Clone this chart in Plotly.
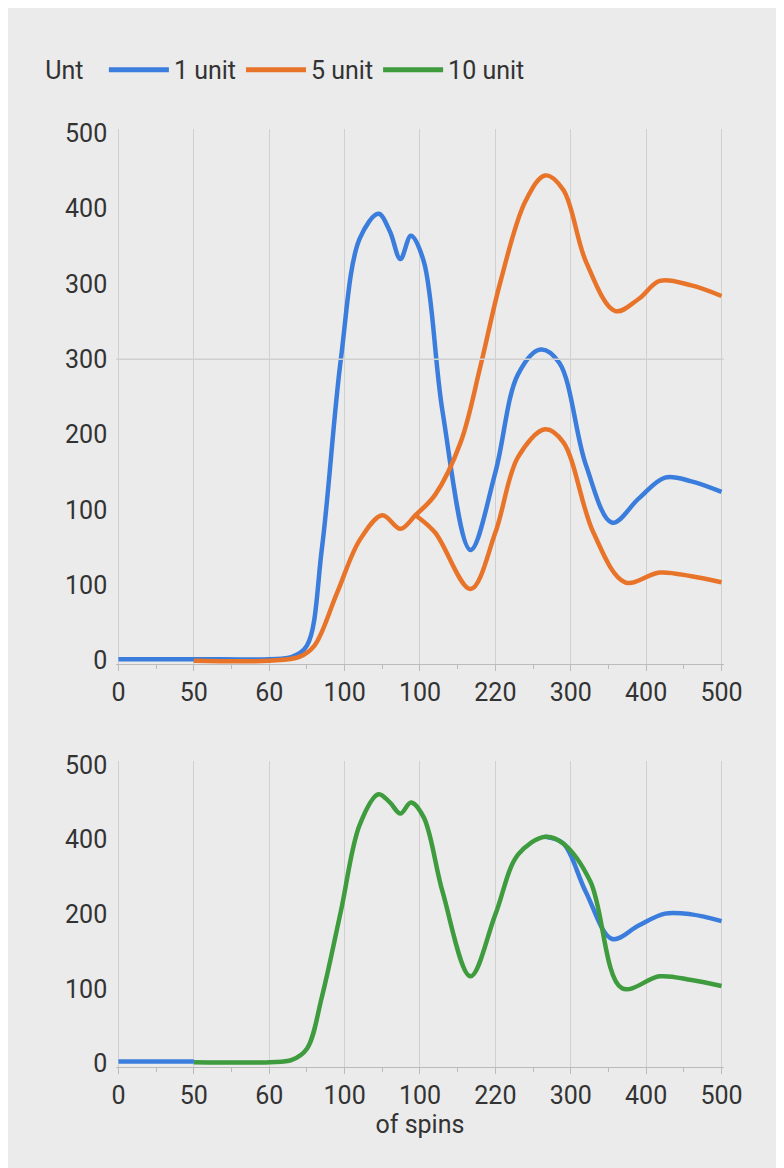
import plotly.graph_objects as go
from plotly.subplots import make_subplots

# tick labels as they appear on the chart (evenly spaced)
x_labels = ["0", "50", "60", "100", "100", "220", "300", "400", "500"]
y_top_labels = ["0", "100", "100", "200", "300", "300", "400", "500"]
y_bot_labels = ["0", "100", "200", "400", "500"]

# top panel, positions in tick-slot units
blue_x = [0, 1, 2, 2.3, 2.5, 2.7, 2.95, 3.2, 3.45, 3.6, 3.74, 3.88, 4.05, 4.3, 4.67, 5.0, 5.3, 5.6, 5.85, 6.2, 6.55, 6.9, 7.25, 7.6, 8]
blue_y = [0.02, 0.02, 0.02, 0.05, 0.2, 1.5, 4.0, 5.6, 5.93, 5.7, 5.33, 5.64, 5.3, 3.3, 1.47, 2.5, 3.8, 4.13, 3.95, 2.6, 1.83, 2.15, 2.43, 2.38, 2.24]
orange_x = [1, 2, 2.4, 2.6, 2.9, 3.2, 3.5, 3.74, 3.94, 4.2, 4.54, 4.8, 5.07, 5.4, 5.66, 5.9, 6.2, 6.59, 6.9, 7.18, 7.6, 8]
orange_y = [0.0, 0.0, 0.05, 0.2, 0.9, 1.6, 1.93, 1.75, 1.93, 2.2, 2.9, 3.9, 5.04, 6.1, 6.44, 6.25, 5.3, 4.64, 4.8, 5.04, 4.98, 4.84]
orange2_x = [3.94, 4.2, 4.67, 5.0, 5.3, 5.66, 5.9, 6.3, 6.72, 7.18, 7.6, 8]
orange2_y = [1.93, 1.7, 0.95, 1.7, 2.7, 3.07, 2.9, 1.7, 1.04, 1.17, 1.12, 1.04]

# bottom panel
blue2_x = [0, 0.5, 1]
blue2_y = [0.03, 0.03, 0.03]
blue3_x = [5.66, 5.9, 6.2, 6.55, 6.9, 7.25, 7.6, 8]
blue3_y = [3.04, 2.95, 2.3, 1.67, 1.85, 2.01, 2.0, 1.91]
green_x = [1, 2, 2.3, 2.5, 2.7, 2.95, 3.2, 3.45, 3.6, 3.74, 3.88, 4.05, 4.3, 4.67, 5.0, 5.3, 5.66, 5.9, 6.26, 6.68, 7.18, 7.6, 8]
green_y = [0.02, 0.02, 0.05, 0.2, 0.9, 2.04, 3.2, 3.61, 3.5, 3.35, 3.5, 3.3, 2.3, 1.17, 2.0, 2.8, 3.04, 2.95, 2.44, 1.01, 1.17, 1.12, 1.04]

BLUE, ORANGE, GREEN = "#3b7ddd", "#e8742a", "#3e9b3e"

fig = make_subplots(rows=2, cols=1)
line = dict(width=4.5, shape="spline", smoothing=1)
fig.add_trace(go.Scatter(x=blue_x, y=blue_y, mode="lines", name="1 unit", line=dict(color=BLUE, **line)), 1, 1)
fig.add_trace(go.Scatter(x=orange_x, y=orange_y, mode="lines", name="5 unit", line=dict(color=ORANGE, **line)), 1, 1)
fig.add_trace(go.Scatter(x=orange2_x, y=orange2_y, mode="lines", showlegend=False, line=dict(color=ORANGE, **line)), 1, 1)
fig.add_trace(go.Scatter(x=blue3_x, y=blue3_y, mode="lines", showlegend=False, line=dict(color=BLUE, **line)), 2, 1)
fig.add_trace(go.Scatter(x=green_x, y=green_y, mode="lines", name="10 unit", line=dict(color=GREEN, **line)), 2, 1)
fig.add_trace(go.Scatter(x=blue2_x, y=blue2_y, mode="lines", showlegend=False, line=dict(color=BLUE, **line)), 2, 1)

font = dict(family="Roboto", size=25, color="#333333")
xcommon = dict(range=[-0.03, 8.03], tickvals=list(range(9)), ticktext=x_labels, domain=[0.138, 0.913],
               showgrid=True, gridcolor="#d0d0d0", gridwidth=1, zeroline=False, showline=True,
               linecolor="#bbbbbb", ticks="outside", ticklen=6, tickcolor="#bbbbbb", tickfont=font,
               automargin=False,
               minor=dict(ticks="outside", ticklen=4, tickcolor="#bbbbbb", dtick=0.5, showgrid=False))
fig.update_xaxes(**xcommon, row=1, col=1)
fig.update_xaxes(**xcommon, row=2, col=1)
fig.update_xaxes(title=dict(text="of spins", font=font, standoff=4), row=2, col=1)

fig.update_yaxes(range=[-0.05, 7.05], tickvals=list(range(8)), ticktext=y_top_labels, domain=[0.438, 0.896],
                 showgrid=False, zeroline=False, tickfont=font, ticklabelstandoff=8, automargin=False, row=1, col=1)
fig.update_yaxes(range=[-0.05, 4.05], tickvals=list(range(5)), ticktext=y_bot_labels, domain=[0.093, 0.355],
                 showgrid=False, zeroline=False, tickfont=font, ticklabelstandoff=8, automargin=False, row=2, col=1)
fig.add_hline(y=4, line=dict(color="#d0d0d0", width=1.5), row=1, col=1)

fig.update_layout(
    width=784, height=1168, margin=dict(l=0, r=0, t=0, b=0, autoexpand=False),
    paper_bgcolor="#ebebeb", plot_bgcolor="#ebebeb", font=font,
    legend=dict(orientation="h", x=0.045, y=0.947, xanchor="left", yanchor="middle",
                title=dict(text="Unt  ", font=font), font=font, itemwidth=60, itemsizing="constant"),
    showlegend=True,
)
fig.write_html("out.html")
